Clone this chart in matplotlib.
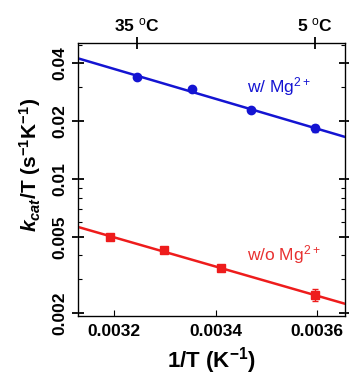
import numpy as np
import matplotlib
matplotlib.use('Agg')
from matplotlib import pyplot as plt
from matplotlib.ticker import LogLocator, FixedLocator, NullFormatter

plt.rcParams['font.family'] = ['Liberation Sans', 'DejaVu Sans']
plt.rcParams['mathtext.fontset'] = 'custom'
plt.rcParams['mathtext.rm'] = 'Liberation Sans'
plt.rcParams['mathtext.it'] = 'Liberation Sans:italic:bold'
plt.rcParams['mathtext.bf'] = 'Liberation Sans:bold'

# data (x = 1/T in K^-1, y = kcat/T in s^-1 K^-1)
x_mg = [0.003245, 0.003354, 0.003470, 0.003595]
y_mg = [0.0339, 0.0294, 0.0228, 0.0184]
err_mg = [0.0005, 0.0005, 0.0004, 0.0008]

x_nomg = [0.003193, 0.0032987, 0.0034112, 0.003595]
y_nomg = [0.00498, 0.00424, 0.00342, 0.00248]
err_nomg = [0.00008, 0.00006, 0.00006, 0.00018]

top_ticks = [0.003245, 0.003595]
top_labels = ['35 $^{\\mathrm{o}}$C', '5 $^{\\mathrm{o}}$C']
yticks = [0.002, 0.005, 0.01, 0.02, 0.04]
ytick_labels = ['0.002', '0.005', '0.01', '0.02', '0.04']
xticks = [0.0032, 0.0034, 0.0036]
xlim = (0.003129, 0.003655)

blue = '#1414d2'
red = '#ee1c1c'

fig = plt.figure(figsize=(3.49, 3.79), dpi=100)
ax = fig.add_axes([0.2235, 0.166, 0.765, 0.72])

# linear fits in log space
xx = np.array(xlim)
p1 = np.polyfit(x_mg, np.log10(y_mg), 1)
p2 = np.polyfit(x_nomg, np.log10(y_nomg), 1)
ax.plot(xx, 10 ** np.polyval(p1, xx), '-', color=blue, lw=1.8)
ax.plot(xx, 10 ** np.polyval(p2, xx), '-', color=red, lw=1.8)

ax.errorbar(x_mg, y_mg, yerr=err_mg, fmt='o', color=blue, ms=6, capsize=2, elinewidth=1)
ax.errorbar(x_nomg, y_nomg, yerr=err_nomg, fmt='s', color=red, ms=5.5, capsize=2, elinewidth=1)

ax.set_yscale('log')
ax.set_xlim(*xlim)
ax.set_ylim(0.00193, 0.051)

ax.yaxis.set_major_locator(FixedLocator(yticks))
ax.set_yticklabels(ytick_labels, rotation=90, va='center', fontsize=12.5, fontweight='bold')
ax.yaxis.set_minor_locator(LogLocator(base=10, subs=np.arange(2, 10)))
ax.yaxis.set_minor_formatter(NullFormatter())
ax.set_xticks(xticks)
ax.set_xticklabels(['%.4f' % v for v in xticks], fontsize=12.5, fontweight='bold')

ax.tick_params(axis='y', which='major', direction='inout', length=9, width=1.3, right=True)
ax.tick_params(axis='y', which='minor', direction='in', length=3, width=0.8, right=True)
ax.tick_params(axis='x', which='major', direction='in', length=4, width=0.8, pad=6)
for s in ax.spines.values():
    s.set_color('#555555')
    s.set_linewidth(1.0)

top = ax.twiny()
top.set_xlim(*xlim)
top.set_xticks(top_ticks)
top.set_xticklabels(top_labels, fontsize=12.5, fontweight='bold')
top.tick_params(axis='x', direction='inout', length=9, width=1.3, pad=2)

ax.set_xlabel('1/T (K$^{\\mathbf{-1}}$)', fontsize=16, fontweight='bold', labelpad=4)
ax.set_ylabel('$k_{cat}$/T (s$^{\\mathbf{-1}}$K$^{\\mathbf{-1}}$)', fontsize=15,
              fontweight='bold', labelpad=2)
ax.yaxis.set_label_coords(-0.13, 0.555)

ax.text(0.003462, 0.0281, 'w/ Mg$^{2+}$', color=blue, fontsize=12.5)
ax.text(0.003462, 0.00376, 'w/o Mg$^{2+}$', color='#e83030', fontsize=12.5)

plt.savefig('out.png', dpi=100)
